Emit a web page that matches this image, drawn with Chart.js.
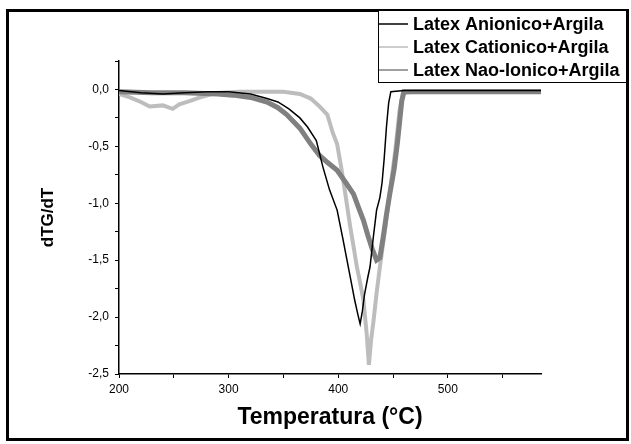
<!DOCTYPE html>
<html>
<head>
<meta charset="utf-8">
<script src="https://cdn.jsdelivr.net/npm/chart.js@4"></script>
<style>
  body { margin: 0; background: #fff; }
</style>
</head>
<body>
<canvas id="dtgChart" width="631" height="444"></canvas>
<script>
const tempAnionico = [200, 220, 240, 260, 280, 300, 320, 335, 345, 355, 365, 372, 380, 386, 392, 399, 404, 408, 412, 415, 418, 420, 422, 424, 427, 429, 432, 435, 438, 440, 442, 444, 446, 448, 460, 480, 500, 520, 540, 560, 585];
const dtgAnionico = [-0.01, -0.03, -0.04, -0.03, -0.02, -0.02, -0.04, -0.08, -0.11, -0.17, -0.25, -0.33, -0.45, -0.68, -0.88, -1.06, -1.3, -1.5, -1.7, -1.85, -1.98, -2.06, -1.95, -1.8, -1.65, -1.56, -1.3, -1.06, -0.95, -0.82, -0.6, -0.33, -0.12, -0.02, -0.01, -0.01, -0.01, -0.01, -0.01, -0.01, -0.01];

const tempCationico = [200, 210, 220, 228, 240, 249, 255, 265, 274, 289, 310, 330, 350, 365, 375, 382, 390, 395, 399, 403, 407, 411, 414, 417, 420, 423, 426, 428, 430, 432, 435, 438, 443, 447, 452, 456, 459, 470, 500, 540, 585];
const dtgCationico = [-0.04, -0.07, -0.11, -0.15, -0.14, -0.17, -0.13, -0.1, -0.07, -0.03, -0.02, -0.02, -0.02, -0.04, -0.08, -0.14, -0.22, -0.38, -0.48, -0.7, -0.95, -1.21, -1.38, -1.56, -1.7, -1.85, -2.15, -2.42, -2.2, -2.05, -1.79, -1.56, -1.21, -0.91, -0.54, -0.18, -0.03, -0.02, -0.02, -0.02, -0.02];

const tempNaoIonico = [200, 230, 260, 290, 304, 320, 335, 345, 353, 365, 375, 383, 390, 399, 407, 414, 419, 423, 427, 431, 435, 438, 441, 444, 447, 451, 454, 458, 460, 480, 500, 540, 585];
const dtgNaoIonico = [-0.02, -0.03, -0.03, -0.04, -0.05, -0.07, -0.11, -0.16, -0.22, -0.34, -0.48, -0.58, -0.64, -0.71, -0.82, -0.92, -1.05, -1.15, -1.28, -1.4, -1.5, -1.48, -1.3, -1.1, -0.92, -0.7, -0.47, -0.1, -0.02, -0.02, -0.02, -0.02, -0.02];

const seriesLabels = ['Latex Anionico+Argila', 'Latex Cationico+Argila', 'Latex Nao-Ionico+Argila'];

function toPoints(xs, ys) {
    return xs.map(function(x, i) { return { x: x, y: ys[i] }; });
}

const fontFamily = '"Liberation Sans", Arial, sans-serif';

// frame round the whole picture + boxed legend in the upper right
const framePlugin = {
    id: 'frameAndLegend',
    afterDraw: function(chart) {
        const ctx = chart.ctx;
        ctx.save();
        ctx.strokeStyle = '#000';
        ctx.lineWidth = 3;
        ctx.strokeRect(7.5, 10.5, 620, 429);

        ctx.lineWidth = 1;
        ctx.fillStyle = '#fff';
        ctx.fillRect(378, 11, 249, 72);
        ctx.strokeRect(378.5, 10.5, 248, 72);

        ctx.font = 'bold 18px ' + fontFamily;
        ctx.textBaseline = 'middle';
        chart.data.datasets.forEach(function(ds, i) {
            const y = 24 + i * 23;
            ctx.strokeStyle = ds.borderColor;
            ctx.lineWidth = 1.5;
            ctx.beginPath();
            ctx.moveTo(379, y);
            ctx.lineTo(408, y);
            ctx.stroke();
            ctx.fillStyle = '#000';
            ctx.fillText(ds.label, 413, y + 1);
        });
        ctx.restore();
    }
};

document.addEventListener('DOMContentLoaded', function() {
    const ctx = document.getElementById('dtgChart').getContext('2d');

    new Chart(ctx, {
        type: 'line',
        data: {
            datasets: [{
                label: seriesLabels[0],
                data: toPoints(tempAnionico, dtgAnionico),
                borderColor: '#000000',
                borderWidth: 1.5,
                order: 0
            }, {
                label: seriesLabels[1],
                data: toPoints(tempCationico, dtgCationico),
                borderColor: '#bdbdbd',
                borderWidth: 4,
                order: 2
            }, {
                label: seriesLabels[2],
                data: toPoints(tempNaoIonico, dtgNaoIonico),
                borderColor: '#808080',
                borderWidth: 5,
                order: 1
            }]
        },
        options: {
            responsive: false,
            animation: false,
            devicePixelRatio: 1,
            elements: {
                point: { radius: 0 },
                line: { tension: 0 }
            },
            layout: {
                padding: { top: 61, right: 90, left: 0, bottom: 0 }
            },
            plugins: {
                legend: { display: false },
                tooltip: { enabled: false }
            },
            scales: {
                x: {
                    type: 'linear',
                    min: 200,
                    max: 585,
                    afterFit: function(scale) { scale.height = 70; },
                    border: { color: '#000', width: 1.5 },
                    grid: { drawOnChartArea: false, tickLength: 4, color: '#000' },
                    ticks: {
                        stepSize: 50,
                        includeBounds: false,
                        maxRotation: 0,
                        autoSkip: false,
                        padding: 4,
                        color: '#000',
                        font: { family: fontFamily, size: 12 },
                        callback: function(value) {
                            return value % 100 === 0 ? String(value) : '';
                        }
                    },
                    title: {
                        display: true,
                        text: 'Temperatura (°C)',
                        color: '#000',
                        font: { family: fontFamily, size: 23, weight: 'bold' },
                        padding: { top: 0, bottom: 13 }
                    }
                },
                y: {
                    min: -2.5,
                    max: 0.25,
                    afterFit: function(scale) { scale.width = 119; },
                    border: { color: '#000', width: 1.5 },
                    grid: { drawOnChartArea: false, tickLength: 4, color: '#000' },
                    ticks: {
                        stepSize: 0.25,
                        autoSkip: false,
                        padding: 6,
                        color: '#000',
                        font: { family: fontFamily, size: 12 },
                        callback: function(value) {
                            const half = value * 2;
                            if (Math.abs(half - Math.round(half)) > 1e-6) return '';
                            return value.toFixed(1).replace('.', ',');
                        }
                    },
                    title: {
                        display: true,
                        text: 'dTG/dT',
                        color: '#000',
                        font: { family: fontFamily, size: 17, weight: 'bold' },
                        padding: { top: 38, bottom: 0 }
                    }
                }
            }
        },
        plugins: [framePlugin]
    });
});
</script>
</body>
</html>
